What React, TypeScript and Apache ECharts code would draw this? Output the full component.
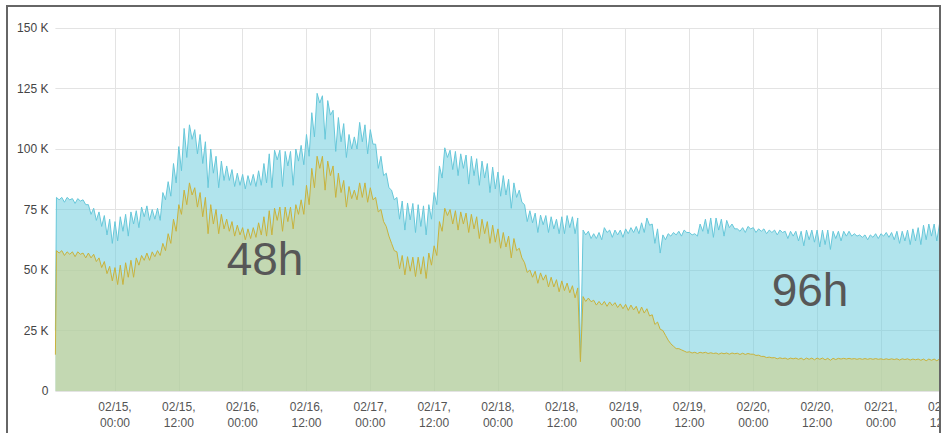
import React, { useEffect, useRef } from "react";
import * as echarts from "echarts";

// Hours counted from 02/15 00:00
const START_HOUR = -11.2;
const FIRST_HOUR = -11;
const END_HOUR = 157;
const tickHours = [0, 12, 24, 36, 48, 60, 72, 84, 96, 108, 120, 132, 144, 156];
const yMin = 0;
const yMax = 150;
const yStep = 25;

// values in thousands, one per hour from FIRST_HOUR
const blueStart = 25;
const blueTop = [
  80, 80, 80, 79.5, 79.5, 79, 77, 75.5, 74, 72.5, 71, 70,
  72, 73, 74, 74.5, 76, 76.5, 75, 75.5, 82, 86.5, 94, 101,
  108.5, 110, 108, 106, 103, 100, 97, 95, 93, 91.5, 90, 89.5,
  89, 89.5, 91, 94, 98, 99.5, 99.5, 99, 99, 100, 101.5, 106,
  115, 123, 122, 120, 116, 113, 110.5, 106, 105, 111, 110, 108,
  102, 97, 90, 83, 80, 78.5, 77.7, 77.5, 77, 76.5, 77, 82,
  93, 100.5, 99.5, 99, 98, 97.5, 97, 96, 95, 94, 92.5, 90.5,
  89, 87.5, 86, 83, 77, 74.5, 73.5, 72.7, 72.5, 72, 71, 72,
  72.5, 72, 71.5, 66.5, 66, 65, 65.5, 67.5, 66.5, 66.5, 66.5, 67,
  67.5, 68, 69.5, 71.5, 69, 67, 64.5, 65, 65.5, 66, 66.5, 65.5,
  65, 69, 71, 71.5, 71.5, 71, 70.5, 69, 67, 67.5, 68, 67.5,
  67, 67, 66.5, 66.5, 66.5, 66, 66, 66, 66, 66.5, 66.5, 66.5,
  66.5, 66.5, 66, 66, 66, 66, 65, 64.5, 64.5, 64.5, 65, 65,
  65.5, 65.5, 66, 66, 66.5, 67, 67.5, 68.5, 69, 69, 69, 69,
];
const blueDipDepth = [
  1, 2, 1, 2, 1, 2, 4, 5, 6, 8, 10, 8,
  6, 9, 5, 7, 4, 6, 4, 5, 3, 6, 8, 10,
  12, 6, 10, 12, 19, 10, 13, 8, 6, 7, 5, 6,
  4, 5, 6, 8, 14, 4, 15, 6, 14, 5, 8, 9,
  10, 4, 18, 6, 17, 10, 14, 6, 5, 8, 12, 6,
  10, 8, 6, 4, 9, 12, 7, 12, 9, 12, 6, 5,
  5, 4, 8, 10, 6, 12, 8, 11, 7, 12, 9, 10,
  8, 12, 6, 5, 7, 5, 8, 4, 7, 5, 6, 7,
  5, 7, 58, 2, 3, 2, 3, 2, 3, 2, 3, 2,
  2, 3, 4, 3, 8, 10, 2, 1, 1, 2, 1, 1,
  1, 3, 6, 8, 5, 7, 3, 2, 1, 2, 1, 2,
  1, 2, 1, 2, 1, 3, 2, 4, 6, 4, 5, 7,
  6, 8, 3, 4, 2, 2, 1, 1, 2, 1, 2, 1,
  2, 3, 5, 4, 6, 5, 7, 6, 5, 7, 4, 0,
];

const greenStart = 15;
const greenTop = [
  58, 58, 57.5, 57.5, 57.5, 57, 57, 56.5, 55, 53.5, 51.5, 51,
  52, 53, 54, 55, 56, 57, 57.5, 58, 61, 65, 71, 77,
  83, 86, 84, 82, 80, 77, 75, 73, 71, 70, 68.5, 67.5,
  67, 67.5, 69.5, 72, 74.5, 75.5, 76, 76, 76, 77, 79, 85,
  92, 97, 97, 95, 93, 90, 87, 84.5, 83, 86, 86, 84,
  80, 75, 68, 61, 57.5, 56, 55.5, 55.3, 55.3, 55.5, 57, 60,
  70, 75.5, 75, 74.5, 74, 73.5, 73, 72, 71, 70, 68.5, 67,
  65.5, 64, 63, 59, 53, 50, 49.5, 48.8, 48, 47, 46, 45.5,
  44.6, 43.5, 42.6, 39, 38.4, 37.5, 37, 37, 36.8, 36.5, 36, 35.8,
  35.5, 35, 34.7, 34, 31.5, 28.5, 25, 21, 18.5, 17.5, 16.5, 16.2,
  16, 16, 16, 15.8, 15.7, 15.7, 15.7, 15.7, 15.6, 15.6, 15.5, 15.2,
  14.8, 14.3, 14, 13.8, 13.7, 13.6, 13.6, 13.6, 13.6, 13.6, 13.6, 13.6,
  13.6, 13.5, 13.5, 13.5, 13.5, 13.5, 13.4, 13.4, 13.4, 13.4, 13.4, 13.3,
  13.3, 13.3, 13.3, 13.3, 13.3, 13.2, 13.2, 13.2, 13.2, 13.2, 13.2, 13.2,
];
const greenDipDepth = [
  1, 2, 1, 2, 1, 2, 2, 3, 4, 5, 6, 7,
  8, 6, 7, 3, 2, 3, 2, 2, 3, 4, 5, 4,
  6, 5, 8, 10, 15, 8, 10, 6, 5, 6, 4, 5,
  4, 4, 5, 8, 10, 5, 10, 6, 9, 4, 6, 8,
  8, 5, 14, 6, 13, 8, 11, 5, 4, 6, 8, 5,
  6, 5, 4, 3, 7, 8, 6, 8, 7, 9, 5, 4,
  4, 3, 6, 8, 5, 8, 6, 9, 6, 9, 7, 8,
  6, 9, 5, 4, 4, 3, 5, 3, 5, 4, 5, 4,
  4, 5, 30.5, 2, 1.5, 2, 1.5, 2, 1.5, 2, 2, 2.5,
  2, 3, 2.5, 3, 4, 3, 2, 1.5, 1, 0.5, 0.5, 0.5,
  0.5, 0.3, 0.5, 0.3, 0.5, 0.3, 0.5, 0.3, 0.5, 0.5, 0.3, 0.5,
  0.5, 0.5, 0.3, 0.5, 0.3, 0.5, 0.3, 0.5, 0.7, 0.5, 0.7, 0.5,
  0.7, 0.8, 0.5, 0.3, 0.3, 0.3, 0.3, 0.3, 0.3, 0.3, 0.3, 0.3,
  0.3, 0.3, 0.5, 0.3, 0.5, 0.3, 0.5, 0.7, 0.5, 0.7, 0.5, 0,
];

const annotationTexts = ["48h", "96h"];

function buildPoints(start: number, tops: number[], depths: number[]) {
  const pts: number[][] = [[START_HOUR, start]];
  tops.forEach((v, i) => {
    const h = FIRST_HOUR + i;
    pts.push([h, v]);
    const d = depths[i];
    if (d > 0) pts.push([h + 0.5, v - d]);
  });
  return pts;
}

function formatHour(h: number) {
  const day = 15 + Math.floor(h / 24);
  const hr = ((h % 24) + 24) % 24;
  const dd = String(day).padStart(2, "0");
  const hh = String(hr).padStart(2, "0");
  return `02/${dd},\n${hh}:00`;
}

const FONT = "'Liberation Sans', Arial, Helvetica, sans-serif";

export default function App() {
  const ref = useRef<HTMLDivElement>(null);
  useEffect(() => {
    if (!ref.current) return;
    const chart = echarts.init(ref.current, undefined, { renderer: "svg" });
    const option: any = {
      animation: false,
      backgroundColor: "#ffffff",
      textStyle: { fontFamily: FONT },
      grid: { left: 47.4, top: 21, width: 894.7, height: 363 },
      xAxis: {
        type: "value",
        min: START_HOUR,
        max: END_HOUR,
        axisLine: { show: false },
        axisTick: { show: false, customValues: tickHours },
        axisLabel: {
          customValues: tickHours,
          formatter: (v: number) => formatHour(v),
          color: "#555555",
          fontSize: 12,
          lineHeight: 16,
          margin: 8,
          fontFamily: FONT,
          hideOverlap: false,
        },
        splitLine: { show: true, lineStyle: { color: "#e3e3e3", width: 1 } },
      },
      yAxis: {
        type: "value",
        min: yMin,
        max: yMax,
        interval: yStep,
        axisLine: { show: false },
        axisTick: { show: false },
        axisLabel: {
          formatter: (v: number) => (v === 0 ? "0" : `${v} K`),
          color: "#444444",
          fontSize: 12,
          margin: 7,
          fontFamily: FONT,
        },
        splitLine: { show: true, lineStyle: { color: "#e3e3e3", width: 1 } },
      },
      series: [
        {
          type: "line",
          data: buildPoints(blueStart, blueTop, blueDipDepth),
          showSymbol: false,
          symbol: "none",
          lineStyle: { color: "#67c7d9", width: 1 },
          itemStyle: { color: "#67c7d9" },
          areaStyle: { color: "rgba(106,203,220,0.52)", opacity: 1, origin: "start" },
          z: 2,
        },
        {
          type: "line",
          data: buildPoints(greenStart, greenTop, greenDipDepth),
          showSymbol: false,
          symbol: "none",
          lineStyle: { color: "#c8b23c", width: 1 },
          itemStyle: { color: "#c8b23c" },
          areaStyle: { color: "rgba(206,208,139,0.6)", opacity: 1, origin: "start" },
          z: 3,
        },
      ],
      graphic: [
        {
          type: "text",
          x: 257,
          y: 252,
          z: 100,
          style: {
            text: annotationTexts[0],
            font: `46px ${FONT}`,
            fill: "#575757",
            align: "center",
            verticalAlign: "middle",
            textAlign: "center",
            textVerticalAlign: "middle",
          },
        },
        {
          type: "text",
          x: 802,
          y: 283,
          z: 100,
          style: {
            text: annotationTexts[1],
            font: `46px ${FONT}`,
            fill: "#575757",
            align: "center",
            verticalAlign: "middle",
            textAlign: "center",
            textVerticalAlign: "middle",
          },
        },
      ],
    };
    chart.setOption(option);
    return () => chart.dispose();
  }, []);

  return (
    <div
      style={{
        position: "fixed",
        left: 0,
        top: 0,
        width: 941,
        height: 433,
        background: "#ffffff",
        overflow: "hidden",
      }}
    >
      <div
        style={{
          position: "absolute",
          left: 6,
          top: 5,
          width: 931,
          height: 440,
          borderTop: "2px solid #666666",
          borderLeft: "2px solid #666666",
          borderRight: "2px solid #666666",
          overflow: "hidden",
          background: "#ffffff",
        }}
      >
        <div
          ref={ref}
          style={{ position: "absolute", left: 0, top: 0, width: 1000, height: 430 }}
        />
      </div>
    </div>
  );
}
